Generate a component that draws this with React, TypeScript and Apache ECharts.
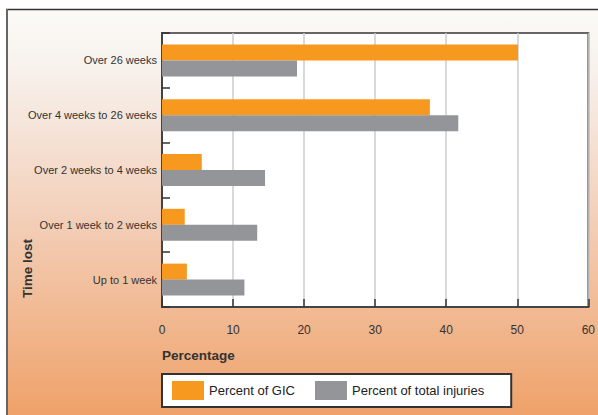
import React, { useEffect, useRef } from "react";
import * as echarts from "echarts";

const categories = [
  "Over 26 weeks",
  "Over 4 weeks to 26 weeks",
  "Over 2 weeks to 4 weeks",
  "Over 1 week to 2 weeks",
  "Up to 1 week",
];
const gicValues = [50.1, 37.7, 5.6, 3.2, 3.5];
const totalValues = [19.0, 41.7, 14.5, 13.4, 11.6];
const seriesNames = ["Percent of GIC", "Percent of total injuries"];
const xTicks = { min: 0, max: 60, interval: 10 };

const FONT = "'Liberation Sans', Arial, sans-serif";

export default function App() {
  const ref = useRef<HTMLDivElement>(null);
  useEffect(() => {
    if (!ref.current) return;
    const chart = echarts.init(ref.current, null, { renderer: "svg" });
    chart.setOption({
      animation: false,
      textStyle: { fontFamily: FONT },
      graphic: [
        {
          type: "rect",
          z: -10,
          silent: true,
          shape: { x: 6, y: 9, width: 600, height: 410 },
          style: {
            fill: new echarts.graphic.LinearGradient(0, 0, 0, 1, [
              { offset: 0, color: "#fbfaf7" },
              { offset: 0.15, color: "#f7f1ec" },
              { offset: 0.5, color: "#f3d0ba" },
              { offset: 1, color: "#efa168" },
            ]),
          },
        },
        {
          type: "line",
          silent: true,
          shape: { x1: 6, y1: 9.5, x2: 598, y2: 9.5 },
          style: { stroke: "#333", lineWidth: 1.5 },
        },
        {
          type: "line",
          silent: true,
          shape: { x1: 7, y1: 9, x2: 7, y2: 415 },
          style: { stroke: "#666", lineWidth: 2 },
        },
        {
          type: "text",
          left: 162,
          top: 348,
          style: {
            text: "Percentage",
            font: `bold 13.5px ${FONT}`,
            fill: "#333",
          },
        },
        {
          type: "text",
          x: 20,
          y: 298,
          rotation: Math.PI / 2,
          style: {
            text: "Time lost",
            font: `bold 13.5px ${FONT}`,
            fill: "#333",
            textAlign: "left",
            textVerticalAlign: "top",
          },
        },
      ],
      grid: {
        left: 162,
        top: 33,
        width: 430,
        height: 274,
        show: true,
        backgroundColor: "#fff",
        borderColor: "#666",
        borderWidth: 2,
        containLabel: false,
      },
      legend: {
        left: 162,
        top: 374,
        itemWidth: 32,
        itemHeight: 19,
        itemGap: 20,
        padding: [7, 27, 7, 10],
        backgroundColor: "#fff",
        borderColor: "#333",
        borderWidth: 2,
        borderRadius: 0,
        icon: "rect",
        textStyle: { fontSize: 13, color: "#222", fontFamily: FONT },
        data: seriesNames,
      },
      xAxis: {
        type: "value",
        min: xTicks.min,
        max: xTicks.max,
        interval: xTicks.interval,
        axisLine: { show: true, lineStyle: { color: "#444", width: 2 } },
        axisTick: { show: true, inside: true, length: 8, lineStyle: { color: "#333", width: 1.5 } },
        axisLabel: { fontSize: 12, color: "#333", margin: 17, fontFamily: FONT },
        splitLine: { show: true, lineStyle: { color: "#cccccc", width: 1.5 } },
      },
      yAxis: {
        type: "category",
        inverse: true,
        data: categories,
        axisLine: { show: true, lineStyle: { color: "#444", width: 2 } },
        axisTick: { show: true, inside: true, length: 8, lineStyle: { color: "#333", width: 1.5 } },
        axisLabel: { fontSize: 11, color: "#333", margin: 5, fontFamily: FONT },
        splitLine: { show: false },
      },
      series: [
        {
          name: seriesNames[0],
          type: "bar",
          data: gicValues,
          barWidth: 16,
          barGap: "0%",
          itemStyle: { color: "#f7981f" },
        },
        {
          name: seriesNames[1],
          type: "bar",
          data: totalValues,
          barWidth: 16,
          barGap: "0%",
          itemStyle: { color: "#949598" },
        },
      ],
    });
    return () => chart.dispose();
  }, []);
  return <div ref={ref} style={{ width: 598, height: 415, position: "absolute", left: 0, top: 0 }} />;
}
